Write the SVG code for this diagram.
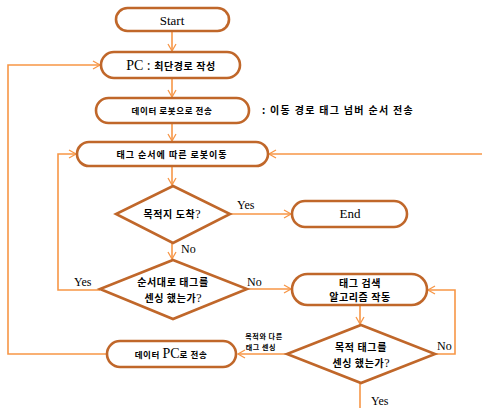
<svg xmlns="http://www.w3.org/2000/svg" width="482" height="408" viewBox="0 0 482 408">
<defs>
<marker id="ar" markerWidth="10" markerHeight="10" refX="8" refY="5" orient="auto" markerUnits="userSpaceOnUse">
<path d="M1,1 L8,5 L1,9" fill="none" stroke="#f79646" stroke-width="1.3"/>
</marker>
<style>
.s{fill:#fff;stroke:#c0672a;stroke-width:2.6}
.c{fill:none;stroke:#f79646;stroke-width:1.6}
.l{font-family:"Liberation Serif",serif;fill:#000}
.k{font-family:"Noto Sans CJK KR",sans-serif;font-weight:bold;fill:#000;letter-spacing:0.6px}
</style>
</defs>
<rect width="482" height="408" fill="#fff"/>
<g id="connectors">
<line class="c" x1="172" y1="31" x2="172" y2="51" marker-end="url(#ar)"/>
<line class="c" x1="172" y1="78" x2="172" y2="97" marker-end="url(#ar)"/>
<line class="c" x1="172" y1="123" x2="172" y2="141" marker-end="url(#ar)"/>
<line class="c" x1="172" y1="166" x2="172" y2="185" marker-end="url(#ar)"/>
<line class="c" x1="172" y1="243" x2="172" y2="259" marker-end="url(#ar)"/>
<line class="c" x1="230" y1="214" x2="291" y2="214" marker-end="url(#ar)"/>
<line class="c" x1="247" y1="289" x2="291" y2="289" marker-end="url(#ar)"/>
<line class="c" x1="360" y1="305" x2="360" y2="324" marker-end="url(#ar)"/>
<line class="c" x1="287" y1="354" x2="238" y2="354" marker-end="url(#ar)"/>
<line class="c" x1="360" y1="383" x2="360" y2="408"/>
<polyline class="c" points="100,290 58,290 58,154 76,154" marker-end="url(#ar)"/>
<polyline class="c" points="107,354 8,354 8,65 100,65" marker-end="url(#ar)"/>
<line class="c" x1="482" y1="154" x2="269" y2="154" marker-end="url(#ar)"/>
<polyline class="c" points="435,354 455,354 455,290 428,290" marker-end="url(#ar)"/>
</g>
<g id="start"><rect class="s" x="116" y="8" width="113" height="23" rx="11.5"/><text class="l" x="172" y="25" font-size="13" text-anchor="middle">Start</text></g>
<g id="pc"><rect class="s" x="101" y="52" width="139" height="26" rx="13"/><text x="171" y="70" text-anchor="middle"><tspan class="l" font-size="14">PC : </tspan><tspan class="k" font-size="10">최단경로 작성</tspan></text></g>
<g id="send"><rect class="s" x="96" y="98" width="153" height="25" rx="12.5"/><text class="k" x="172" y="114" font-size="8.5" text-anchor="middle">데이터 로봇으로 전송</text></g>
<g id="note"><text class="k" x="262" y="114" font-size="10" style="letter-spacing:1.3px">: 이동 경로 태그 넘버 순서 전송</text></g>
<g id="move"><rect class="s" x="77" y="142" width="191" height="24" rx="12"/><text class="k" x="172" y="158" font-size="9" text-anchor="middle" style="letter-spacing:1px">태그 순서에 따른 로봇이동</text></g>
<g id="d1"><polygon class="s" points="173,186 230,214 173,243 116,214"/><text x="172" y="218" text-anchor="middle"><tspan class="k" font-size="10">목적지 도착</tspan><tspan class="l" font-size="12">?</tspan></text></g>
<g id="end"><rect class="s" x="292" y="201" width="115" height="26" rx="13"/><text class="l" x="350" y="218" font-size="13" text-anchor="middle">End</text></g>
<g id="d2"><polygon class="s" points="173,260 247,289 173,319 100,289"/><text class="k" x="173" y="286" font-size="10" text-anchor="middle">순서대로 태그를</text><text x="173" y="302" text-anchor="middle"><tspan class="k" font-size="10">센싱 했는가</tspan><tspan class="l" font-size="12">?</tspan></text></g>
<g id="search"><rect class="s" x="292" y="274" width="135" height="31" rx="15.5"/><text class="k" x="360" y="287" font-size="10" text-anchor="middle">태그 검색</text><text class="k" x="360" y="301" font-size="10" text-anchor="middle">알고리즘 작동</text></g>
<g id="d3"><polygon class="s" points="361,325 435,354 361,383 287,354"/><text class="k" x="361" y="351" font-size="10" text-anchor="middle">목적 태그를</text><text x="361" y="367" text-anchor="middle"><tspan class="k" font-size="10">센싱 했는가</tspan><tspan class="l" font-size="12">?</tspan></text></g>
<g id="topc"><rect class="s" x="107" y="341" width="129" height="26" rx="13"/><text x="171" y="358" text-anchor="middle"><tspan class="k" font-size="8.5">데이터 </tspan><tspan class="l" font-size="14">PC</tspan><tspan class="k" font-size="8.5">로 전송</tspan></text></g>
<g id="labels">
<text class="l" x="237" y="209" font-size="12">Yes</text>
<text class="l" x="181" y="253" font-size="12">No</text>
<text class="l" x="74" y="286" font-size="12">Yes</text>
<text class="l" x="247" y="286" font-size="12">No</text>
<text class="l" x="437" y="350" font-size="12">No</text>
<text class="l" x="371" y="405" font-size="12">Yes</text>
<text class="k" x="264" y="339" font-size="7" text-anchor="middle">목적와 다른</text>
<text class="k" x="261" y="350" font-size="7" text-anchor="middle">태그 센싱</text>
</g>
</svg>
